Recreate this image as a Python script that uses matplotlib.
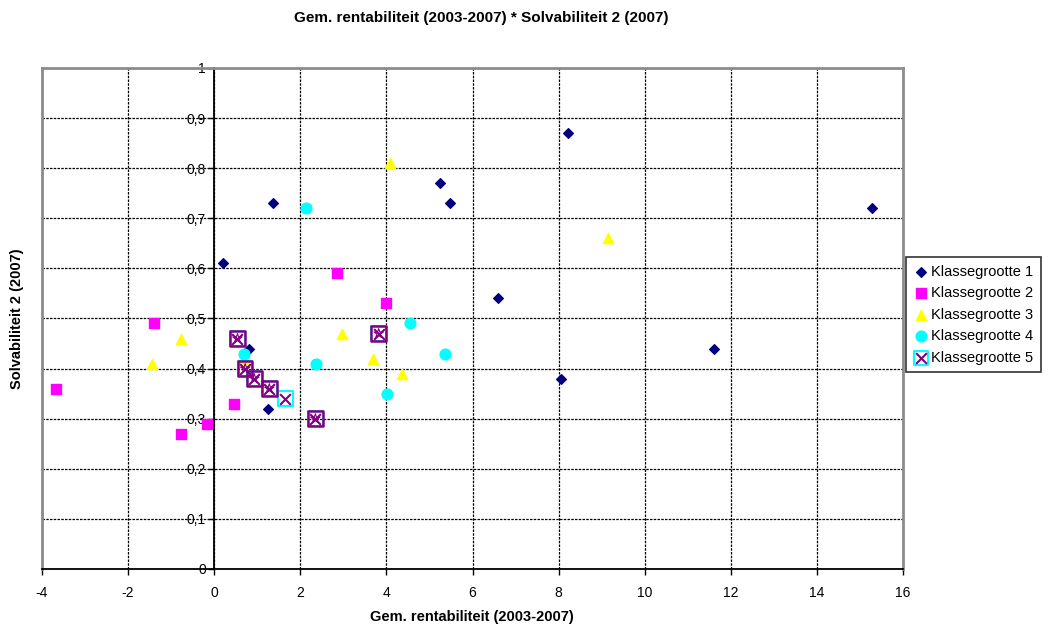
import matplotlib
matplotlib.use('Agg')
import matplotlib.pyplot as plt
import numpy as np

plt.rcParams['font.family'] = ['Liberation Sans', 'DejaVu Sans']

# Klassegrootte 1 .. 5
k1_x = [0.2, 1.37, 0.8, 1.25, 5.25, 5.48, 8.22, 6.6, 8.06, 11.61, 15.28]
k1_y = [0.61, 0.73, 0.44, 0.32, 0.77, 0.73, 0.87, 0.54, 0.38, 0.44, 0.72]
k2_x = [-3.67, -1.39, -0.77, -0.16, 0.46, 2.86, 4.0]
k2_y = [0.36, 0.49, 0.27, 0.29, 0.33, 0.59, 0.53]
k3_x = [-1.44, -0.77, 0.67, 2.97, 3.69, 4.37, 4.09, 9.15]
k3_y = [0.41, 0.46, 0.42, 0.47, 0.42, 0.39, 0.81, 0.66]
k4_x = [0.7, 2.14, 2.37, 4.02, 4.55, 5.37]
k4_y = [0.43, 0.72, 0.41, 0.35, 0.49, 0.43]
k5_x = [0.54, 0.72, 0.93, 1.28, 1.65, 2.35, 3.82]
k5_y = [0.46, 0.40, 0.38, 0.36, 0.34, 0.30, 0.47]
# extra series without legend entry (purple boxes)
k6_x = [0.54, 0.72, 0.93, 1.28, 2.35, 3.82]
k6_y = [0.46, 0.40, 0.38, 0.36, 0.30, 0.47]

xticks = [-4, -2, 0, 2, 4, 6, 8, 10, 12, 14, 16]
yticks = [0, 0.1, 0.2, 0.3, 0.4, 0.5, 0.6, 0.7, 0.8, 0.9, 1]
ylabels = ['0', '0,1', '0,2', '0,3', '0,4', '0,5', '0,6', '0,7', '0,8', '0,9', '1']

fig = plt.figure(figsize=(10.58, 6.26), dpi=100)
ax = fig.add_axes([0.0397, 0.0911, 0.8138, 0.8003])

ax.set_xlim(-4, 16)
ax.set_ylim(0, 1)
ax.set_xticks(xticks)
ax.set_xticklabels([str(t) for t in xticks])
ax.set_yticks(yticks)
ax.set_yticklabels(ylabels)
ax.grid(True, color='black', linestyle=(0, (2, 1)), linewidth=0.9)
ax.set_axisbelow(True)

ax.spines['left'].set_position(('data', 0))
ax.spines['left'].set_color('black')
ax.spines['left'].set_linewidth(1.3)
ax.spines['bottom'].set_color('black')
ax.spines['bottom'].set_linewidth(1.3)
for s in ['top', 'right']:
    ax.spines[s].set_color('#8c8c8c')
    ax.spines[s].set_linewidth(2)
ax.axvline(-4, color='#8c8c8c', linewidth=2, clip_on=False, zorder=2.5)
ax.tick_params(axis='both', direction='out', length=4, width=1, labelsize=10, color='black')
ax.tick_params(axis='y', pad=2)
ax.tick_params(axis='x', pad=8)

ax.scatter(k1_x, k1_y, marker='D', s=24, color='#000080', label='Klassegrootte 1', zorder=3)
ax.scatter(k2_x, k2_y, marker='s', s=45, color='#ff00ff', label='Klassegrootte 2', zorder=3)
ax.scatter(k3_x, k3_y, marker='^', s=55, color='#ffff00', label='Klassegrootte 3', zorder=3)
ax.scatter(k4_x, k4_y, marker='o', s=60, color='#00ffff', label='Klassegrootte 4', zorder=3)
h5 = ax.scatter(k5_x, k5_y, marker='s', s=110, facecolor='none', edgecolor='#00ffff', linewidth=1.5, zorder=4)
h5x = ax.scatter(k5_x, k5_y, marker='x', s=60, color='#800080', linewidth=1.5, zorder=5)
ax.scatter(k6_x, k6_y, marker='s', s=110, facecolor='none', edgecolor='#800080', linewidth=1.8, zorder=6)
ax.scatter(k6_x, k6_y, marker='*', s=50, facecolor='none', edgecolor='#800080', linewidth=0.8, zorder=6)

handles, labels = ax.get_legend_handles_labels()
handles.append((h5, h5x))
labels.append('Klassegrootte 5')
leg = fig.legend(handles, labels, loc='upper left', bbox_to_anchor=(0.856, 0.589),
                 fontsize=10.5, frameon=True, fancybox=False, edgecolor='black',
                 handletextpad=0.15, handlelength=1.1, labelspacing=0.52, borderpad=0.5,
                 borderaxespad=0)
leg.get_frame().set_linewidth(1.2)

fig.text(0.455, 0.971, 'Gem. rentabiliteit (2003-2007) * Solvabiliteit 2 (2007)',
         ha='center', va='center', fontsize=11, fontweight='bold')
fig.text(0.446, 0.014, 'Gem. rentabiliteit (2003-2007)', ha='center', va='center',
         fontsize=10.5, fontweight='bold')
fig.text(0.016, 0.491, 'Solvabiliteit 2 (2007)', ha='center', va='center',
         rotation=90, fontsize=10.5, fontweight='bold')

fig.savefig('out.png', dpi=100)
